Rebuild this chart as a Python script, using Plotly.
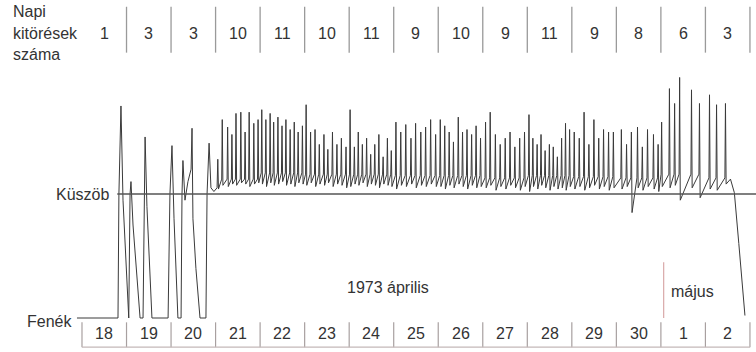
import plotly.graph_objects as go

# Geyser water-level record, 18 April - 2 May 1973.
# x is hours since 18 April 00:00, level: 0 = bottom (Fenék), 100 = threshold (Küszöb)
THRESHOLD = 100
BOTTOM = 0

day_labels = ["18", "19", "20", "21", "22", "23", "24", "25", "26", "27",
              "28", "29", "30", "1", "2"]
daily_eruptions = [1, 3, 3, 10, 11, 10, 11, 9, 10, 9, 11, 9, 8, 6, 3]

# 18-20 April: the basin empties after every eruption
early_hours = [-2.7, 19.4, 19.9, 21.0, 22.1, 24.8, 25.2, 25.9, 26.4, 27.5, 31.3,
               32.9, 33.4, 34.0, 35.0, 37.7, 46.4, 47.4, 48.5, 49.6, 51.7,
               53.4, 53.9, 54.4, 55.5, 57.1, 58.8, 59.3, 59.8, 61.4, 63.6,
               66.8, 67.4, 68.5, 69.5, 71.1, 72.8]
early_levels = [0, 0, 100, 171, 95, 2, 0, 100, 110, 75, 0,
                0, 100, 146, 90, 0, 0, 100, 139, 80, 0,
                0, 100, 127, 95, 110, 120, 153, 80, 40, 0,
                0, 100, 141, 105, 102, 105]

# 21 April - 2 May: level stays above the threshold, eruptions as spikes
eruption_hours = [
    [1.2, 3.6, 6.5, 8.8, 11.0, 13.6, 15.9, 18.1, 20.6, 22.9],
    [0.9, 3.1, 5.4, 7.3, 9.6, 11.8, 13.9, 16.2, 18.4, 20.5, 22.8],
    [0.8, 3.2, 5.6, 7.9, 10.4, 12.5, 15.0, 17.4, 19.8, 22.3],
    [0.5, 2.8, 4.9, 7.1, 9.4, 11.6, 13.8, 16.0, 18.3, 20.6, 22.7],
    [1.2, 3.8, 6.5, 9.3, 11.8, 14.6, 17.2, 19.9, 22.6],
    [1.1, 3.5, 5.9, 8.2, 10.8, 13.1, 15.5, 18.0, 20.4, 22.8],
    [1.5, 4.0, 6.8, 9.4, 12.1, 14.7, 17.3, 19.9, 22.5],
    [0.9, 3.0, 5.3, 7.4, 9.6, 11.9, 14.0, 16.2, 18.5, 20.6, 22.8],
    [1.3, 4.0, 6.6, 9.2, 11.9, 14.5, 17.1, 19.8, 22.4],
    [2.7, 5.5, 8.1, 11.4, 14.0, 16.8, 20.0, 22.5],
    [0.4, 4.6, 7.4, 10.1, 16.5, 20.8],
    [2.2, 6.0, 10.8],
]
eruption_peaks = [
    [128, 160, 154, 148, 165, 166, 150, 166, 157, 160],
    [168, 160, 165, 158, 162, 155, 160, 152, 158, 150, 155],
    [172, 150, 152, 140, 148, 136, 150, 140, 145, 138],
    [168, 138, 150, 140, 145, 132, 140, 148, 130, 145, 135],
    [158, 150, 156, 145, 157, 150, 154, 160, 148],
    [160, 155, 150, 142, 162, 150, 152, 148, 155, 145],
    [158, 166, 148, 140, 145, 150, 138, 145, 150],
    [164, 145, 140, 148, 135, 140, 138, 130, 145, 157, 152],
    [150, 145, 166, 140, 160, 145, 152, 150, 150],
    [152, 140, 150, 154, 138, 152, 148, 140],
    [158, 185, 173, 194, 184, 173],
    [180, 172, 173],
]
eruption_lows = [
    [104, 107, 106, 108, 107, 109, 108, 106, 108, 109],
    [108, 106, 109, 107, 108, 110, 107, 108, 106, 109, 108],
    [107, 109, 106, 108, 107, 109, 106, 108, 107, 105],
    [106, 108, 107, 109, 106, 108, 107, 105, 108, 107, 106],
    [104, 107, 106, 108, 105, 107, 106, 108, 106],
    [106, 104, 107, 105, 108, 106, 104, 107, 105, 106],
    [105, 107, 103, 106, 104, 107, 105, 103, 106],
    [102, 106, 104, 107, 105, 103, 106, 104, 105, 103, 106],
    [104, 106, 103, 105, 107, 104, 106, 103, 105],
    [104, 106, 85, 105, 103, 106, 104, 102],
    [106, 105, 107, 95, 105, 97],
    [104, 103, 108],
]
base_levels = [112, 117, 116, 116, 115, 115, 113, 115, 114, 113, 116, 113]

# 2 May: the basin drains
end_hours = [349.5, 351.6, 353.5, 354.0, 357.3]
end_levels = [112, 101, 71, 60, 2]

# assemble the trace
xs = list(early_hours)
ys = list(early_levels)
for d, hrs in enumerate(eruption_hours):
    off = 24 * (3 + d)
    for h, pk, lo in zip(hrs, eruption_peaks[d], eruption_lows[d]):
        xs += [off + h - 0.3, off + h, off + h + 0.35]
        ys += [base_levels[d], pk, lo]
xs += end_hours
ys += end_levels

FONT = "Liberation Sans, Arial, sans-serif"
TXT = "#333333"
FS = 16

fig = go.Figure()
fig.add_trace(go.Scatter(x=xs, y=ys, mode="lines",
                         line=dict(color="#3a3a3a", width=1),
                         hoverinfo="skip", showlegend=False))

shapes = []
# threshold line
shapes.append(dict(type="line", xref="x", yref="y", x0=19.0, x1=363.3,
                   y0=THRESHOLD, y1=THRESHOLD,
                   line=dict(color="#555555", width=1.5)))
# header separators
for k in range(1, 16):
    shapes.append(dict(type="line", xref="x", yref="y", x0=24 * k, x1=24 * k,
                       y0=214, y1=251, line=dict(color="#9a9a9a", width=1.3)))
# date box separators and bottom rule
for k in range(0, 16):
    shapes.append(dict(type="line", xref="x", yref="y", x0=24 * k, x1=24 * k,
                       y0=-3.5, y1=-23.5, line=dict(color="#a8a0a0", width=1.2)))
shapes.append(dict(type="line", xref="x", yref="y", x0=0, x1=360,
                   y0=-23.5, y1=-23.5, line=dict(color="#c4b8b8", width=1.2)))
# April / May divider
shapes.append(dict(type="line", xref="x", yref="y", x0=313.5, x1=313.5,
                   y0=45, y1=0, line=dict(color="#d9a9a9", width=1.2)))

annotations = []
for i, (lab, n) in enumerate(zip(day_labels, daily_eruptions)):
    annotations.append(dict(x=24 * i + 12, y=-12.1, xref="x", yref="y",
                            text=lab, showarrow=False,
                            font=dict(family=FONT, size=FS, color=TXT)))
    annotations.append(dict(x=24 * i + 12, y=229.8, xref="x", yref="y",
                            text=str(n), showarrow=False,
                            font=dict(family=FONT, size=FS, color=TXT)))

for txt, yv in [("Napi", 246.8), ("kitörések", 229.8), ("száma", 212.2)]:
    annotations.append(dict(x=-38.5, y=yv, xref="x", yref="y", text=txt,
                            xanchor="left", showarrow=False,
                            font=dict(family=FONT, size=FS, color=TXT)))
annotations.append(dict(x=15.5, y=THRESHOLD, xref="x", yref="y", text="Küszöb",
                        xanchor="right", showarrow=False,
                        font=dict(family=FONT, size=FS, color=TXT)))
annotations.append(dict(x=-4.5, y=-3.0, xref="x", yref="y", text="Fenék",
                        xanchor="right", showarrow=False,
                        font=dict(family=FONT, size=FS, color=TXT)))
annotations.append(dict(x=165, y=25, xref="x", yref="y", text="1973 április",
                        showarrow=False,
                        font=dict(family=FONT, size=FS, color=TXT)))
annotations.append(dict(x=329, y=21, xref="x", yref="y", text="május",
                        showarrow=False,
                        font=dict(family=FONT, size=FS, color=TXT)))

fig.update_layout(
    width=756, height=352,
    margin=dict(l=0, r=0, t=0, b=0),
    paper_bgcolor="white", plot_bgcolor="white",
    xaxis=dict(range=[-44.19, 363.26], visible=False, fixedrange=True),
    yaxis=dict(range=[-27.42, 256.45], visible=False, fixedrange=True),
    shapes=shapes, annotations=annotations, showlegend=False,
)

fig.write_html("out.html")
